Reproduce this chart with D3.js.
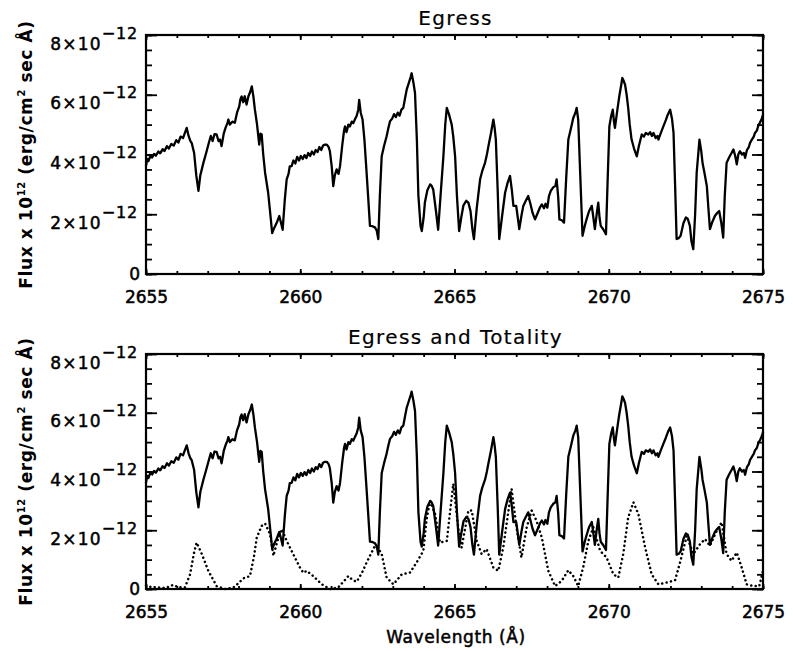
<!DOCTYPE html>
<html><head><meta charset="utf-8">
<script src="https://cdn.jsdelivr.net/npm/d3@7"></script>
<style>body{margin:0;background:#fff}</style>
</head><body><svg id="c" width="793" height="651"></svg>
<script>
const xTicks = [2655, 2660, 2665, 2670, 2675];
const xMinorTicks = d3.range(2655, 2675.5, 1);
const yTicks = [0, 2, 4, 6, 8];
const yMinorTicks = d3.range(0, 8.01, 0.5);
const panelTitles = ["Egress", "Egress and Totality"];
const xLabel = "Wavelength (Å)";

// Egress spectrum: [wavelength Å, flux in units of 1e-12 erg/cm²/s/Å]
const egress = [
[2655.00,3.62],[2655.04,3.85],[2655.08,3.78],[2655.14,3.95],[2655.20,3.90],[2655.26,4.02],[2655.32,3.96],[2655.40,4.10],
[2655.46,4.04],[2655.54,4.18],[2655.60,4.12],[2655.68,4.28],[2655.74,4.20],[2655.82,4.35],[2655.90,4.30],[2655.98,4.48],
[2656.05,4.40],[2656.12,4.60],[2656.20,4.55],[2656.27,4.75],[2656.32,4.89],[2656.38,4.62],[2656.44,4.45],[2656.48,4.39],
[2656.56,4.05],[2656.63,3.30],[2656.70,2.78],[2656.76,3.30],[2656.86,3.72],[2656.95,4.05],[2657.04,4.40],[2657.10,4.62],
[2657.16,4.45],[2657.22,4.68],[2657.29,4.67],[2657.35,4.45],[2657.40,4.50],[2657.45,4.28],[2657.52,4.70],[2657.58,4.90],
[2657.64,5.05],[2657.67,5.17],[2657.72,5.00],[2657.80,5.10],[2657.88,5.06],[2657.95,5.40],[2658.02,5.60],[2658.06,5.85],
[2658.10,5.94],[2658.15,5.75],[2658.20,5.95],[2658.26,5.67],[2658.32,5.95],[2658.38,6.10],[2658.43,6.28],[2658.48,5.95],
[2658.53,5.50],[2658.60,5.00],[2658.67,4.33],[2658.71,4.70],[2658.75,4.67],[2658.80,4.00],[2658.86,3.39],[2658.96,2.72],
[2659.03,2.00],[2659.09,1.37],[2659.16,1.55],[2659.24,1.72],[2659.32,1.94],[2659.38,1.70],[2659.43,1.48],[2659.50,2.50],
[2659.56,3.17],[2659.62,3.35],[2659.66,3.60],[2659.72,3.61],[2659.78,3.80],[2659.84,3.70],[2659.90,3.92],[2659.96,3.80],
[2660.02,3.95],[2660.08,3.85],[2660.14,3.98],[2660.20,3.88],[2660.26,4.05],[2660.32,3.95],[2660.38,4.10],[2660.44,4.00],
[2660.50,4.15],[2660.56,4.08],[2660.62,4.25],[2660.68,4.15],[2660.74,4.30],[2660.80,4.33],[2660.86,4.33],[2660.92,4.25],
[2660.96,4.11],[2661.02,3.60],[2661.07,2.94],[2661.12,3.30],[2661.18,3.50],[2661.24,3.35],[2661.29,3.61],[2661.36,4.30],
[2661.42,4.80],[2661.45,4.94],[2661.50,4.75],[2661.56,5.00],[2661.61,4.94],[2661.67,5.10],[2661.72,5.05],[2661.77,5.17],
[2661.83,5.30],[2661.88,5.50],[2661.91,5.83],[2661.96,5.40],[2662.02,5.17],[2662.08,4.50],[2662.13,3.72],[2662.20,2.60],
[2662.26,1.61],[2662.34,1.60],[2662.42,1.56],[2662.48,1.45],[2662.53,1.17],[2662.58,2.60],[2662.64,3.94],[2662.72,4.30],
[2662.80,4.61],[2662.86,4.90],[2662.91,5.11],[2662.98,5.20],[2663.04,5.35],[2663.10,5.25],[2663.16,5.40],[2663.22,5.30],
[2663.28,5.50],[2663.34,5.56],[2663.40,5.90],[2663.45,6.17],[2663.52,6.40],[2663.58,6.60],[2663.61,6.72],[2663.67,6.40],
[2663.72,6.06],[2663.78,4.50],[2663.83,2.61],[2663.90,1.60],[2663.94,1.44],[2664.00,1.90],[2664.04,2.39],[2664.12,2.80],
[2664.21,3.00],[2664.26,2.95],[2664.31,2.83],[2664.40,2.10],[2664.47,1.48],[2664.56,2.80],[2664.64,3.94],[2664.70,5.00],
[2664.75,5.56],[2664.82,5.35],[2664.91,5.00],[2664.96,4.60],[2665.02,3.94],[2665.08,2.60],[2665.15,1.44],[2665.22,1.90],
[2665.29,2.30],[2665.38,2.45],[2665.45,2.39],[2665.52,2.10],[2665.58,1.50],[2665.63,1.17],[2665.72,2.20],[2665.83,3.17],
[2665.90,3.45],[2665.99,3.72],[2666.05,4.00],[2666.10,4.28],[2666.18,4.70],[2666.26,5.17],[2666.30,4.90],[2666.34,4.50],
[2666.40,2.80],[2666.45,1.17],[2666.55,2.00],[2666.64,2.72],[2666.72,3.05],[2666.80,3.28],[2666.86,2.80],[2666.91,2.28],
[2667.00,2.28],[2667.05,1.90],[2667.10,1.50],[2667.17,1.95],[2667.23,2.28],[2667.31,2.45],[2667.39,2.61],[2667.46,2.35],
[2667.53,2.05],[2667.61,1.83],[2667.70,2.05],[2667.78,2.25],[2667.83,2.33],[2667.90,2.20],[2667.95,2.35],[2668.01,2.22],
[2668.06,2.60],[2668.12,2.78],[2668.20,2.90],[2668.27,2.95],[2668.31,3.17],[2668.36,2.60],[2668.40,1.83],[2668.48,1.80],
[2668.55,1.72],[2668.62,3.20],[2668.69,4.50],[2668.77,4.85],[2668.85,5.22],[2668.92,5.40],[2668.96,5.56],[2669.01,5.17],
[2669.08,3.20],[2669.15,1.28],[2669.22,1.60],[2669.28,1.83],[2669.36,2.10],[2669.45,2.28],[2669.50,1.90],[2669.55,1.50],
[2669.62,2.10],[2669.66,2.39],[2669.70,1.90],[2669.74,1.61],[2669.82,1.50],[2669.91,1.33],[2669.96,3.00],[2670.02,4.94],
[2670.08,5.30],[2670.13,5.50],[2670.17,5.10],[2670.20,4.89],[2670.28,5.50],[2670.34,5.94],[2670.40,6.30],[2670.44,6.56],
[2670.49,6.45],[2670.53,6.33],[2670.58,6.00],[2670.63,5.56],[2670.68,5.00],[2670.74,4.50],[2670.82,4.20],[2670.91,3.94],
[2670.98,4.30],[2671.07,4.67],[2671.14,4.60],[2671.20,4.72],[2671.28,4.67],[2671.34,4.75],[2671.40,4.62],[2671.45,4.72],
[2671.52,4.55],[2671.58,4.62],[2671.61,4.50],[2671.68,4.70],[2671.77,4.94],[2671.85,5.15],[2671.92,5.35],[2671.99,5.50],
[2672.05,5.20],[2672.10,4.72],[2672.15,3.00],[2672.20,1.17],[2672.27,1.20],[2672.33,1.28],[2672.42,1.70],[2672.50,1.89],
[2672.56,1.85],[2672.63,1.61],[2672.68,1.10],[2672.74,0.83],[2672.80,2.00],[2672.85,3.39],[2672.94,4.50],[2673.00,4.10],
[2673.04,3.72],[2673.10,3.40],[2673.18,2.94],[2673.23,2.20],[2673.28,1.50],[2673.36,1.75],[2673.44,1.94],[2673.52,2.05],
[2673.58,2.11],[2673.65,1.70],[2673.71,1.22],[2673.76,2.60],[2673.82,3.72],[2673.90,3.90],[2673.98,4.05],[2674.04,4.17],
[2674.10,3.95],[2674.15,3.67],[2674.20,4.00],[2674.25,4.11],[2674.32,4.00],[2674.38,4.05],[2674.42,3.89],[2674.48,4.15],
[2674.54,4.25],[2674.58,4.39],[2674.64,4.50],[2674.70,4.60],[2674.74,4.72],[2674.80,4.80],[2674.86,5.00],[2674.90,5.06],
[2674.96,5.20],[2675.00,5.33]
];

// Totality spectrum (dotted)
const totality = [
[2655.00,0.12],[2655.07,0.10],[2655.20,0.05],[2655.35,0.07],[2655.50,0.03],[2655.67,0.05],[2655.88,0.14],[2656.05,0.06],
[2656.26,0.05],[2656.43,0.50],[2656.55,1.20],[2656.64,1.58],[2656.72,1.40],[2656.81,1.19],[2657.02,0.62],[2657.29,0.10],
[2657.56,0.00],[2657.83,0.05],[2658.00,0.20],[2658.15,0.36],[2658.37,0.44],[2658.50,1.10],[2658.59,1.75],[2658.75,2.15],
[2658.86,2.23],[2659.02,1.87],[2659.13,1.13],[2659.26,1.64],[2659.40,2.04],[2659.56,1.64],[2659.77,1.19],[2659.99,0.73],
[2660.10,0.55],[2660.21,0.62],[2660.42,0.44],[2660.70,0.16],[2660.96,0.00],[2661.23,0.05],[2661.40,0.25],[2661.56,0.44],
[2661.70,0.30],[2661.83,0.25],[2662.00,0.55],[2662.15,0.90],[2662.42,1.47],[2662.55,1.35],[2662.64,1.19],[2662.80,0.39],
[2663.02,0.16],[2663.29,0.50],[2663.56,0.56],[2663.77,0.90],[2663.99,1.30],[2664.10,2.40],[2664.21,3.00],[2664.37,2.55],
[2664.53,1.58],[2664.75,1.64],[2664.96,3.58],[2665.12,2.10],[2665.23,1.41],[2665.45,2.67],[2665.56,2.67],[2665.72,1.64],
[2665.88,1.19],[2666.04,1.36],[2666.26,0.73],[2666.42,0.62],[2666.58,1.41],[2666.85,3.41],[2667.01,2.10],[2667.17,1.07],
[2667.34,2.10],[2667.50,2.67],[2667.66,2.32],[2667.83,1.75],[2668.04,0.62],[2668.26,0.10],[2668.47,0.27],[2668.69,0.64],
[2668.85,0.44],[2669.01,0.10],[2669.17,0.73],[2669.34,1.64],[2669.50,2.10],[2669.72,1.30],[2669.93,1.07],[2670.15,0.50],
[2670.31,0.39],[2670.47,1.19],[2670.63,2.44],[2670.80,2.95],[2670.96,2.55],[2671.18,1.41],[2671.39,0.50],[2671.61,0.16],
[2671.88,0.22],[2672.15,0.30],[2672.31,0.90],[2672.53,1.81],[2672.74,1.19],[2672.96,1.53],[2673.12,1.70],[2673.28,1.47],
[2673.50,1.98],[2673.66,2.27],[2673.82,1.19],[2673.98,0.96],[2674.15,1.24],[2674.31,0.73],[2674.47,0.16],[2674.69,0.10],
[2674.88,0.10],[2675.00,0.62]
];

const svg = d3.select("#c");
const FONT = "'DejaVu Sans', Verdana, sans-serif";
const L = 146, R = 763;

function heavy(sel, w) {
  return sel.attr("stroke", "#000").attr("stroke-width", w).attr("paint-order", "stroke");
}

function drawPanel(top, bottom, title, seriesList) {
  const x = d3.scaleLinear().domain([2655, 2675]).range([L, R]);
  const y = d3.scaleLinear().domain([0, 8]).range([bottom, top]);
  const g = svg.append("g");

  function ax(gen, tx, ty) {
    const a = g.append("g").attr("transform", `translate(${tx},${ty})`).call(gen);
    a.select(".domain").remove();
    a.selectAll(".tick line").attr("stroke", "#000").attr("stroke-width", 1.8);
    return a;
  }
  // minor ticks
  ax(d3.axisBottom(x).tickValues(xMinorTicks).tickSize(-3).tickFormat(""), 0, bottom);
  ax(d3.axisTop(x).tickValues(xMinorTicks).tickSize(-3).tickFormat(""), 0, top);
  ax(d3.axisLeft(y).tickValues(yMinorTicks).tickSize(-6).tickFormat(""), L, 0);
  ax(d3.axisRight(y).tickValues(yMinorTicks).tickSize(-6).tickFormat(""), R, 0);
  // major ticks
  const xb = ax(d3.axisBottom(x).tickValues(xTicks).tickSize(-5).tickFormat(d3.format("d")), 0, bottom);
  heavy(xb.selectAll(".tick text").attr("y", 29).attr("dy", null)
    .attr("font-family", FONT).attr("font-size", 17).attr("fill", "#000"), 0.5);
  ax(d3.axisTop(x).tickValues(xTicks).tickSize(-5).tickFormat(""), 0, top);
  const yl = ax(d3.axisLeft(y).tickValues(yTicks).tickSize(-11).tickFormat(d => d === 0 ? "0" : d + "×10"), L, 0);
  yl.selectAll(".tick text").each(function (d) {
    const t = d3.select(this)
      .attr("font-family", FONT).attr("font-size", 17).attr("fill", "#000")
      .attr("dy", null).attr("text-anchor", "end");
    heavy(t, 0.5);
    if (d === 0) {
      t.attr("x", -6).attr("y", 5);
    } else {
      t.attr("x", -8).attr("y", 14).attr("letter-spacing", 1.2);
      t.append("tspan").attr("dy", -11).attr("font-size", 16).attr("letter-spacing", 0.8).text("−12");
    }
  });
  ax(d3.axisRight(y).tickValues(yTicks).tickSize(-11).tickFormat(""), R, 0);

  // frame
  g.append("rect").attr("x", L).attr("y", top).attr("width", R - L).attr("height", bottom - top)
    .attr("fill", "none").attr("stroke", "#000").attr("stroke-width", 2.2);

  // title
  heavy(g.append("text").attr("x", (L + R) / 2 + 1).attr("y", top - 10).attr("text-anchor", "middle")
    .attr("font-family", FONT).attr("font-size", 20).attr("letter-spacing", 1.4).text(title), 0.2);

  // y label
  const ylab = g.append("text")
    .attr("transform", `translate(32,${(top + bottom) / 2}) rotate(-90)`)
    .attr("text-anchor", "middle").attr("font-family", FONT).attr("font-size", 17)
    .attr("font-weight", "bold").attr("letter-spacing", 0.6);
  ylab.append("tspan").text("Flux x 10");
  ylab.append("tspan").attr("dy", -7).attr("font-size", 10).text("12");
  ylab.append("tspan").attr("dy", 7).text(" (erg/cm");
  ylab.append("tspan").attr("dy", -7).attr("font-size", 10).text("2");
  ylab.append("tspan").attr("dy", 7).text(" sec Å)");

  const line = d3.line().x(d => x(d[0])).y(d => y(d[1]));
  seriesList.forEach(s => {
    g.append("path").datum(s.data).attr("d", line)
      .attr("fill", "none").attr("stroke", "#000")
      .attr("stroke-width", s.dotted ? 2.5 : 2.3)
      .attr("stroke-linejoin", "round")
      .attr("stroke-linecap", "round")
      .attr("stroke-dasharray", s.dotted ? "0.1,4.4" : null);
  });
}

drawPanel(35, 274, panelTitles[0], [{ data: egress, dotted: false }]);
drawPanel(354, 589, panelTitles[1], [{ data: egress, dotted: false }, { data: totality, dotted: true }]);

heavy(svg.append("text").attr("x", 456).attr("y", 643).attr("text-anchor", "middle")
  .attr("font-family", FONT).attr("font-size", 17).attr("letter-spacing", 0.6).text(xLabel), 0.5);
</script>
</body></html>
